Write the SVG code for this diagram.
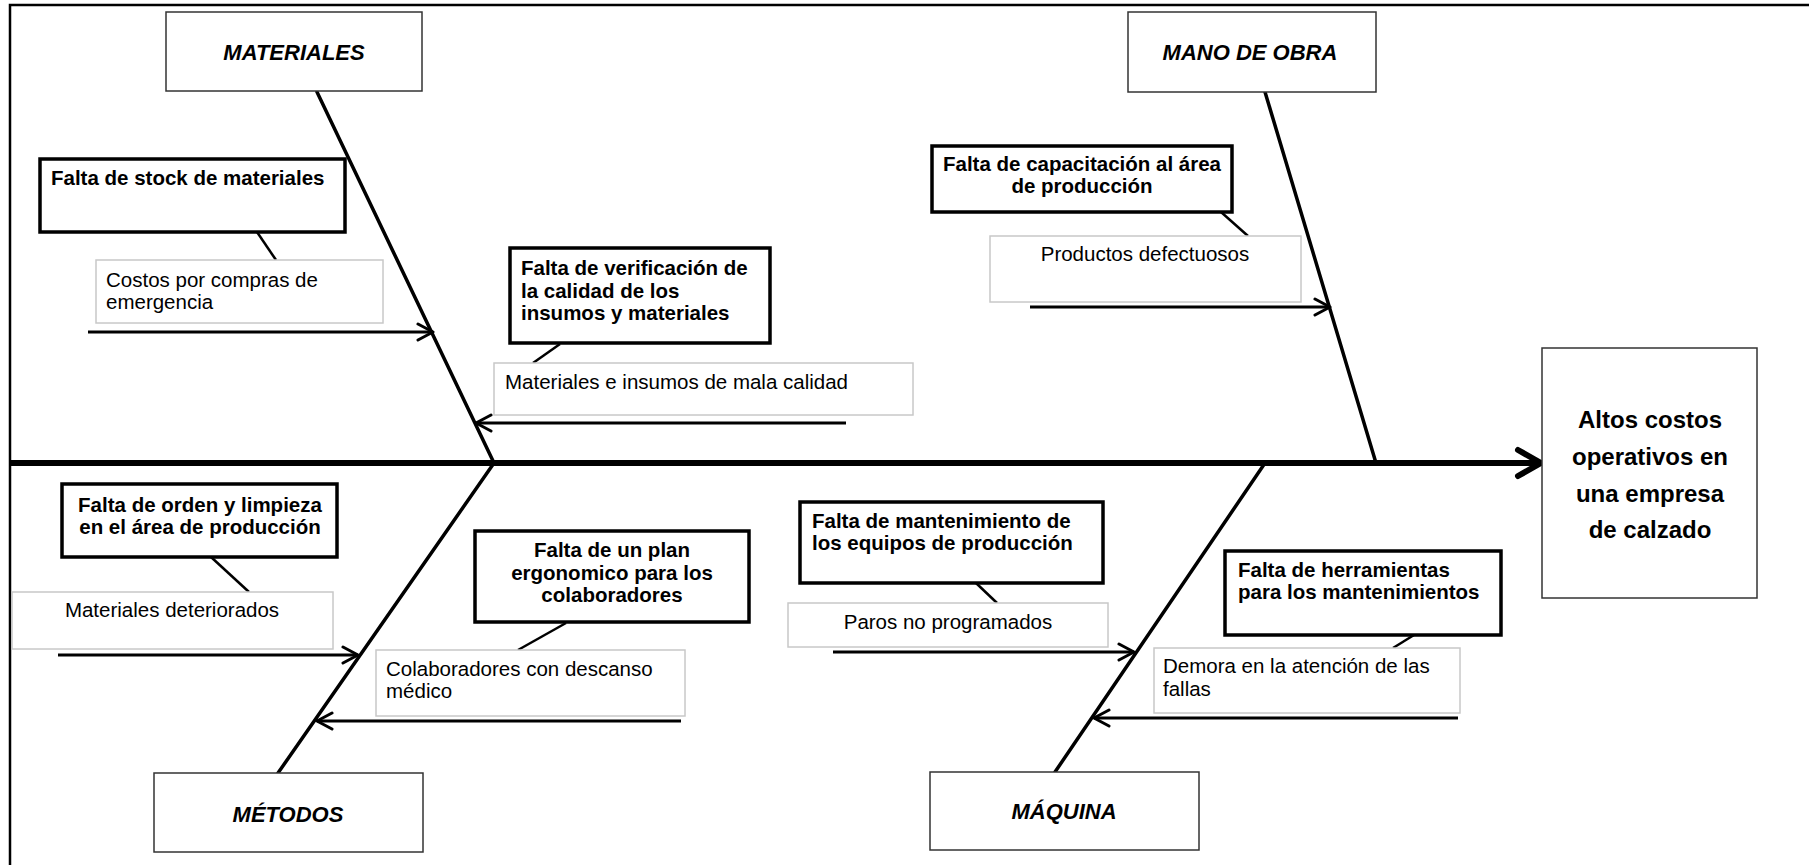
<svg xmlns="http://www.w3.org/2000/svg" width="1809" height="865" viewBox="0 0 1809 865">
<style>
.cat{fill:#fff;stroke:#333;stroke-width:1.5}
.eff{fill:#fff;stroke:#333;stroke-width:1.5}
.cause{fill:#fff;stroke:#000;stroke-width:3.5}
.sub{fill:#fff;stroke:#c8c8c8;stroke-width:1.5}
.tcat{font-family:"Liberation Sans",Arial,sans-serif;font-weight:bold;font-style:italic;font-size:22px;fill:#000;text-anchor:middle}
.teff{font-family:"Liberation Sans",Arial,sans-serif;font-weight:bold;font-size:24px;fill:#000;text-anchor:middle}
.tcause{font-family:"Liberation Sans",Arial,sans-serif;font-weight:bold;font-size:20.5px;fill:#000}
.tsub{font-family:"Liberation Sans",Arial,sans-serif;font-size:20.5px;fill:#000}
.mid{text-anchor:middle}
.bone{stroke:#000;stroke-width:3.5;fill:none;stroke-linecap:round}
.arr{stroke:#000;stroke-width:3;fill:none;marker-end:url(#chev)}
.link{stroke:#000;stroke-width:2.5;fill:none}
.frame{stroke:#000;stroke-width:2.5;fill:none}
</style>
<defs>
<marker id="chev" markerUnits="userSpaceOnUse" markerWidth="24" markerHeight="24" refX="18" refY="10" orient="auto">
<path d="M3,2 L18,10 L3,18" fill="none" stroke="#000" stroke-width="3" stroke-linecap="round" stroke-linejoin="round"/>
</marker>
</defs>
<rect x="0" y="0" width="1809" height="865" fill="#fff"/>
<g id="frame">
<path class="frame" d="M10,865 L10,5 L1809,5"/>
</g>
<g id="connectors">
<line x1="10" y1="463" x2="1538" y2="463" stroke="#000" stroke-width="6"/>
<polyline points="1518,450 1541,463 1518,476" fill="none" stroke="#000" stroke-width="6" stroke-linecap="round" stroke-linejoin="round"/>
<line class="bone" x1="317" y1="92" x2="494" y2="463"/>
<line class="bone" x1="1265" y1="92" x2="1376" y2="463"/>
<line class="bone" x1="494" y1="463" x2="278" y2="773"/>
<line class="bone" x1="1265" y1="463" x2="1055" y2="772"/>
<line class="arr" x1="88" y1="332" x2="433" y2="332"/>
<line class="arr" x1="1030" y1="307" x2="1330" y2="307"/>
<line class="arr" x1="846" y1="423" x2="476" y2="423"/>
<line class="arr" x1="58" y1="655" x2="358" y2="655"/>
<line class="arr" x1="681" y1="721" x2="317" y2="721"/>
<line class="arr" x1="833" y1="652" x2="1134" y2="652"/>
<line class="arr" x1="1458" y1="718" x2="1094" y2="718"/>
<line class="link" x1="257" y1="232" x2="276" y2="260"/>
<line class="link" x1="560" y1="344" x2="533" y2="363"/>
<line class="link" x1="1221" y1="212" x2="1248" y2="236"/>
<line class="link" x1="211" y1="557" x2="249" y2="592"/>
<line class="link" x1="566" y1="623" x2="518" y2="650"/>
<line class="link" x1="976" y1="583" x2="997" y2="603"/>
<line class="link" x1="1414" y1="635" x2="1393" y2="648"/>
</g>
<g id="cat-materiales">
<rect class="cat" x="166" y="12" width="256" height="79"/>
<text class="tcat" x="294" y="60">MATERIALES</text>
</g>
<g id="cat-mano-de-obra">
<rect class="cat" x="1128" y="12" width="248" height="80"/>
<text class="tcat" x="1250" y="60">MANO DE OBRA</text>
</g>
<g id="cat-metodos">
<rect class="cat" x="154" y="773" width="269" height="79"/>
<text class="tcat" x="288" y="822">MÉTODOS</text>
</g>
<g id="cat-maquina">
<rect class="cat" x="930" y="772" width="269" height="78"/>
<text class="tcat" x="1064" y="819">MÁQUINA</text>
</g>
<g id="effect">
<rect class="eff" x="1542" y="348" width="215" height="250"/>
<text class="teff" x="1650" y="428">Altos costos</text>
<text class="teff" x="1650" y="465">operativos en</text>
<text class="teff" x="1650" y="502">una empresa</text>
<text class="teff" x="1650" y="538">de calzado</text>
</g>
<g id="cause-stock">
<rect class="cause" x="40" y="159" width="305" height="73"/>
<text class="tcause" x="51" y="185">Falta de stock de materiales</text>
</g>
<g id="sub-costos">
<rect class="sub" x="96" y="260" width="287" height="63"/>
<text class="tsub" x="106" y="287">Costos por compras de</text>
<text class="tsub" x="106" y="309">emergencia</text>
</g>
<g id="cause-verificacion">
<rect class="cause" x="510" y="248" width="260" height="95"/>
<text class="tcause" x="521" y="275">Falta de verificación de</text>
<text class="tcause" x="521" y="298">la calidad de los</text>
<text class="tcause" x="521" y="320">insumos y materiales</text>
</g>
<g id="sub-mala-calidad">
<rect class="sub" x="494" y="363" width="419" height="52"/>
<text class="tsub" x="505" y="389">Materiales e insumos de mala calidad</text>
</g>
<g id="cause-capacitacion">
<rect class="cause" x="932" y="146" width="300" height="66"/>
<text class="tcause mid" x="1082" y="171">Falta de capacitación al área</text>
<text class="tcause mid" x="1082" y="193">de producción</text>
</g>
<g id="sub-defectuosos">
<rect class="sub" x="990" y="236" width="311" height="66"/>
<text class="tsub mid" x="1145" y="261">Productos defectuosos</text>
</g>
<g id="cause-orden">
<rect class="cause" x="62" y="484" width="275" height="73"/>
<text class="tcause mid" x="200" y="512">Falta de orden y limpieza</text>
<text class="tcause mid" x="200" y="534">en el área de producción</text>
</g>
<g id="sub-deteriorados">
<rect class="sub" x="12" y="592" width="321" height="57"/>
<text class="tsub mid" x="172" y="617">Materiales deteriorados</text>
</g>
<g id="cause-ergonomico">
<rect class="cause" x="475" y="531" width="274" height="91"/>
<text class="tcause mid" x="612" y="557">Falta de un plan</text>
<text class="tcause mid" x="612" y="580">ergonomico para los</text>
<text class="tcause mid" x="612" y="602">colaboradores</text>
</g>
<g id="sub-descanso">
<rect class="sub" x="376" y="650" width="309" height="66"/>
<text class="tsub" x="386" y="676">Colaboradores con descanso</text>
<text class="tsub" x="386" y="698">médico</text>
</g>
<g id="cause-mantenimiento">
<rect class="cause" x="800" y="502" width="303" height="81"/>
<text class="tcause" x="812" y="528">Falta de mantenimiento de</text>
<text class="tcause" x="812" y="550">los equipos de producción</text>
</g>
<g id="sub-paros">
<rect class="sub" x="788" y="603" width="320" height="44"/>
<text class="tsub mid" x="948" y="629">Paros no programados</text>
</g>
<g id="cause-herramientas">
<rect class="cause" x="1225" y="551" width="276" height="84"/>
<text class="tcause" x="1238" y="577">Falta de herramientas</text>
<text class="tcause" x="1238" y="599">para los mantenimientos</text>
</g>
<g id="sub-demora">
<rect class="sub" x="1154" y="648" width="306" height="65"/>
<text class="tsub" x="1163" y="673">Demora en la atención de las</text>
<text class="tsub" x="1163" y="696">fallas</text>
</g>
</svg>
